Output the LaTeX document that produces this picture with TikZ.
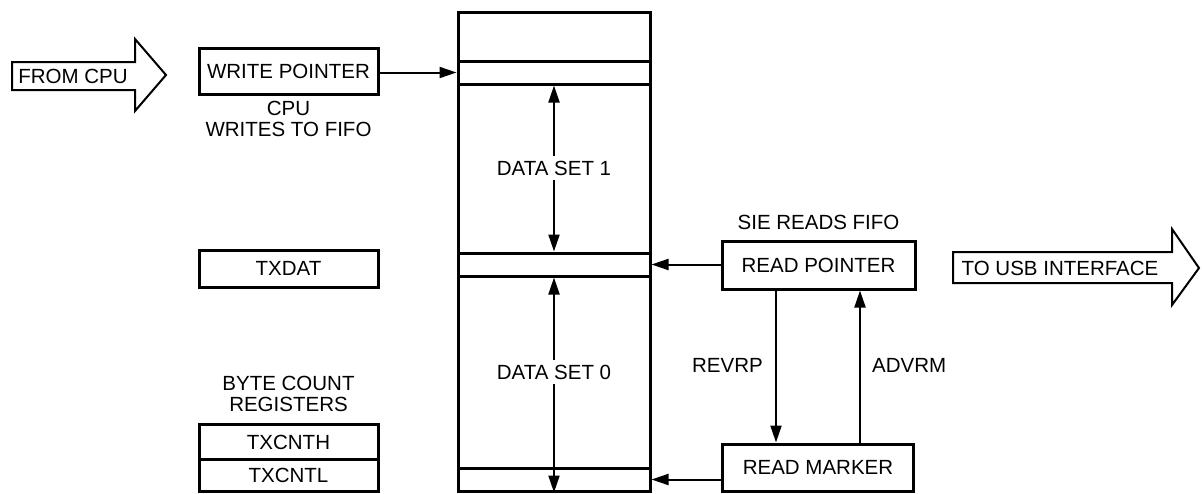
\documentclass[tikz,border=0pt]{standalone}
\usepackage{fontspec}
\setmainfont{Liberation Sans}
\usetikzlibrary{arrows.meta}
\begin{document}
\begin{tikzpicture}[x=1pt,y=-1pt,
  box/.style={draw, line width=3pt, inner sep=0pt, font=\fontsize{20.5}{21}\selectfont},
  lbl/.style={inner sep=0pt, font=\fontsize{20.5}{21}\selectfont, align=center},
  conn/.style={line width=2pt, -{Triangle[length=17pt,width=11pt]}},
  bigarrow/.style={draw, line width=2pt, line join=miter}]
\useasboundingbox (0,0) rectangle (1202,493);

% FIFO
\node[box, minimum width=192pt, minimum height=479pt] (fifo) at (554,251.5) {};
\node[box, minimum width=192pt, minimum height=23pt] (s1) at (554,72.5) {};
\node[box, minimum width=192pt, minimum height=23pt] (s2) at (554,264.5) {};
\node[box, minimum width=192pt, minimum height=23pt] (s3) at (554,479.5) {};

\node[lbl, inner sep=5pt] (ds1) at (554,168) {DATA SET 1};
\node[lbl, inner sep=5pt] (ds0) at (554,372) {DATA SET 0};
\draw[conn] (ds1) -- (s1.south);
\draw[conn] (ds1) -- (s2.north);
\draw[conn] (ds0) -- (s2.south);
\draw[conn] (ds0) -- (s3.south);

% left side
\draw[bigarrow] (12,62) -- (135,62) -- (135,39) -- (166,75) -- (135,111) -- (135,90) -- (12,90) -- cycle;
\node[lbl] (fromcpu) at (73,76) {FROM CPU};

\node[box, minimum width=179pt, minimum height=46pt] (wp) at (288.5,71.5) {WRITE POINTER};
\node[lbl] (cpuw) at (288.5,119) {CPU\\WRITES TO FIFO};
\draw[conn] (wp.east |- s1.west) -- (s1.west);

\node[box, minimum width=179pt, minimum height=37pt] (txdat) at (288.5,268.5) {TXDAT};
\node[lbl] (bcr) at (288.5,394) {BYTE COUNT\\REGISTERS};
\node[box, minimum width=179pt, minimum height=35pt] (txh) at (288.5,442) {TXCNTH};
\node[box, minimum width=179pt, minimum height=32pt] (txl) at (288.5,475.5) {TXCNTL};

% right side
\node[lbl] (sie) at (818.5,222) {SIE READS FIFO};
\node[box, minimum width=193pt, minimum height=48pt] (rp) at (818.5,265) {READ POINTER};
\node[box, minimum width=191pt, minimum height=47pt] (rm) at (818,467.5) {READ MARKER};
\draw[conn] (rp.west |- s2.east) -- (s2.east);
\draw[conn] (rm.west |- s3.east) -- (s3.east);
\draw[conn] ([xshift=-42.5pt]rp.south) -- ([xshift=-42pt]rm.north);
\draw[conn] ([xshift=42pt]rm.north) -- ([xshift=41.5pt]rp.south);
\node[lbl, anchor=east] (revrp) at (763,365) {REVRP};
\node[lbl, anchor=west] (advrm) at (872,365) {ADVRM};

\draw[bigarrow] (953,252) -- (1172,252) -- (1172,229) -- (1199,268) -- (1172,305) -- (1172,283) -- (953,283) -- cycle;
\node[lbl] (usb) at (1060,268) {TO USB INTERFACE};
\end{tikzpicture}
\end{document}
